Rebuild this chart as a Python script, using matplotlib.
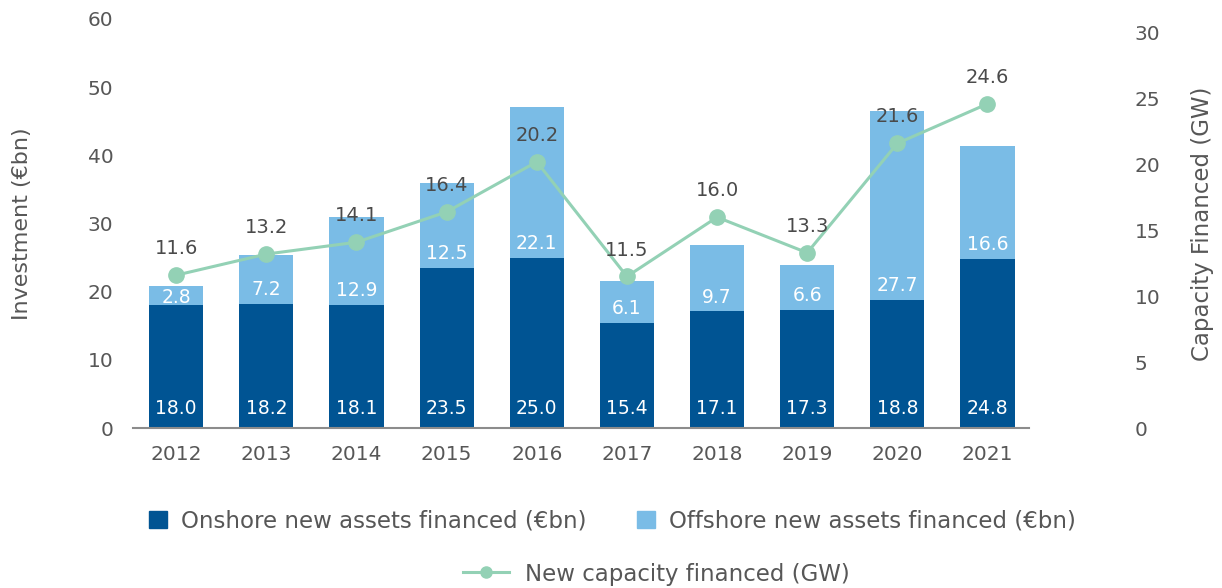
import matplotlib.pyplot as plt
from matplotlib.lines import Line2D
from matplotlib.patches import Patch

# data
years = ['2012', '2013', '2014', '2015', '2016', '2017', '2018', '2019', '2020', '2021']
onshore = [18.0, 18.2, 18.1, 23.5, 25.0, 15.4, 17.1, 17.3, 18.8, 24.8]
offshore = [2.8, 7.2, 12.9, 12.5, 22.1, 6.1, 9.7, 6.6, 27.7, 16.6]
capacity = [11.6, 13.2, 14.1, 16.4, 20.2, 11.5, 16.0, 13.3, 21.6, 24.6]

dark_blue = '#005493'
light_blue = '#7abce6'
green = '#93d1b5'
txt = '#575757'

plt.rcParams['font.family'] = 'DejaVu Sans'

fig = plt.figure(figsize=(12.22, 5.88), dpi=100)
ax = fig.add_axes([0.1088, 0.272, 0.7332, 0.696])
x = list(range(len(years)))

ax.bar(x, onshore, width=0.6, color=dark_blue, zorder=2)
ax.bar(x, offshore, width=0.6, bottom=onshore, color=light_blue, zorder=2)

for i in x:
    ax.text(i, 2.9, f'{onshore[i]:.1f}', ha='center', va='center',
            color='white', fontsize=13.5, zorder=3)
    ypos = onshore[i] + min(2.1, offshore[i] / 2 - 0.2)
    ax.text(i, ypos, f'{offshore[i]:.1f}', ha='center', va='center',
            color='white', fontsize=13.5, zorder=3)

ax.set_xlim(-0.48, 9.46)
ax.set_ylim(0, 60)
ax.set_yticks(range(0, 61, 10))
ax.set_xticks(x)
ax.set_xticklabels(years)
for s in ['top', 'right', 'left']:
    ax.spines[s].set_visible(False)
ax.spines['bottom'].set_color('#8c8c8c')
ax.spines['bottom'].set_linewidth(1.5)
ax.tick_params(axis='both', length=0, labelsize=14.5, colors=txt)
ax.tick_params(axis='y', pad=14)
ax.tick_params(axis='x', pad=12)
ax.set_ylabel('Investment (€bn)', fontsize=16, color=txt, labelpad=40)

ax2 = ax.twinx()
ax2.plot(x, capacity, color=green, lw=2.2, marker='o', ms=11, zorder=4)
for i in x:
    ax2.annotate(f'{capacity[i]:.1f}', (i, capacity[i]), xytext=(0, 19),
                 textcoords='offset points', ha='center', va='center',
                 fontsize=14, color='#4a4a4a', zorder=5)
ax2.set_ylim(0, 31.05)
ax2.set_yticks(range(0, 31, 5))
for s in ['top', 'right', 'left', 'bottom']:
    ax2.spines[s].set_visible(False)
ax2.tick_params(axis='y', length=0, labelsize=14.5, colors=txt, pad=76)
ax2.set_ylabel('Capacity Financed (GW)', fontsize=16.5, color=txt, labelpad=22)

h1 = [Patch(color=dark_blue), Patch(color=light_blue)]
fig.legend(h1, ['Onshore new assets financed (€bn)', 'Offshore new assets financed (€bn)'],
           loc='center', bbox_to_anchor=(612 / 1222, 1 - 521 / 588), ncol=2,
           frameon=False, fontsize=16.5, labelcolor=txt, columnspacing=2.2,
           handlelength=0.8, handleheight=0.8, handletextpad=0.6)
h2 = [Line2D([], [], color=green, lw=2.2, marker='o', ms=8)]
fig.legend(h2, ['New capacity financed (GW)'], loc='center',
           bbox_to_anchor=(656 / 1222, 1 - 574 / 588), frameon=False,
           fontsize=16.5, labelcolor=txt, handlelength=2.0, handletextpad=0.7)

fig.savefig('out.png', dpi=100)
